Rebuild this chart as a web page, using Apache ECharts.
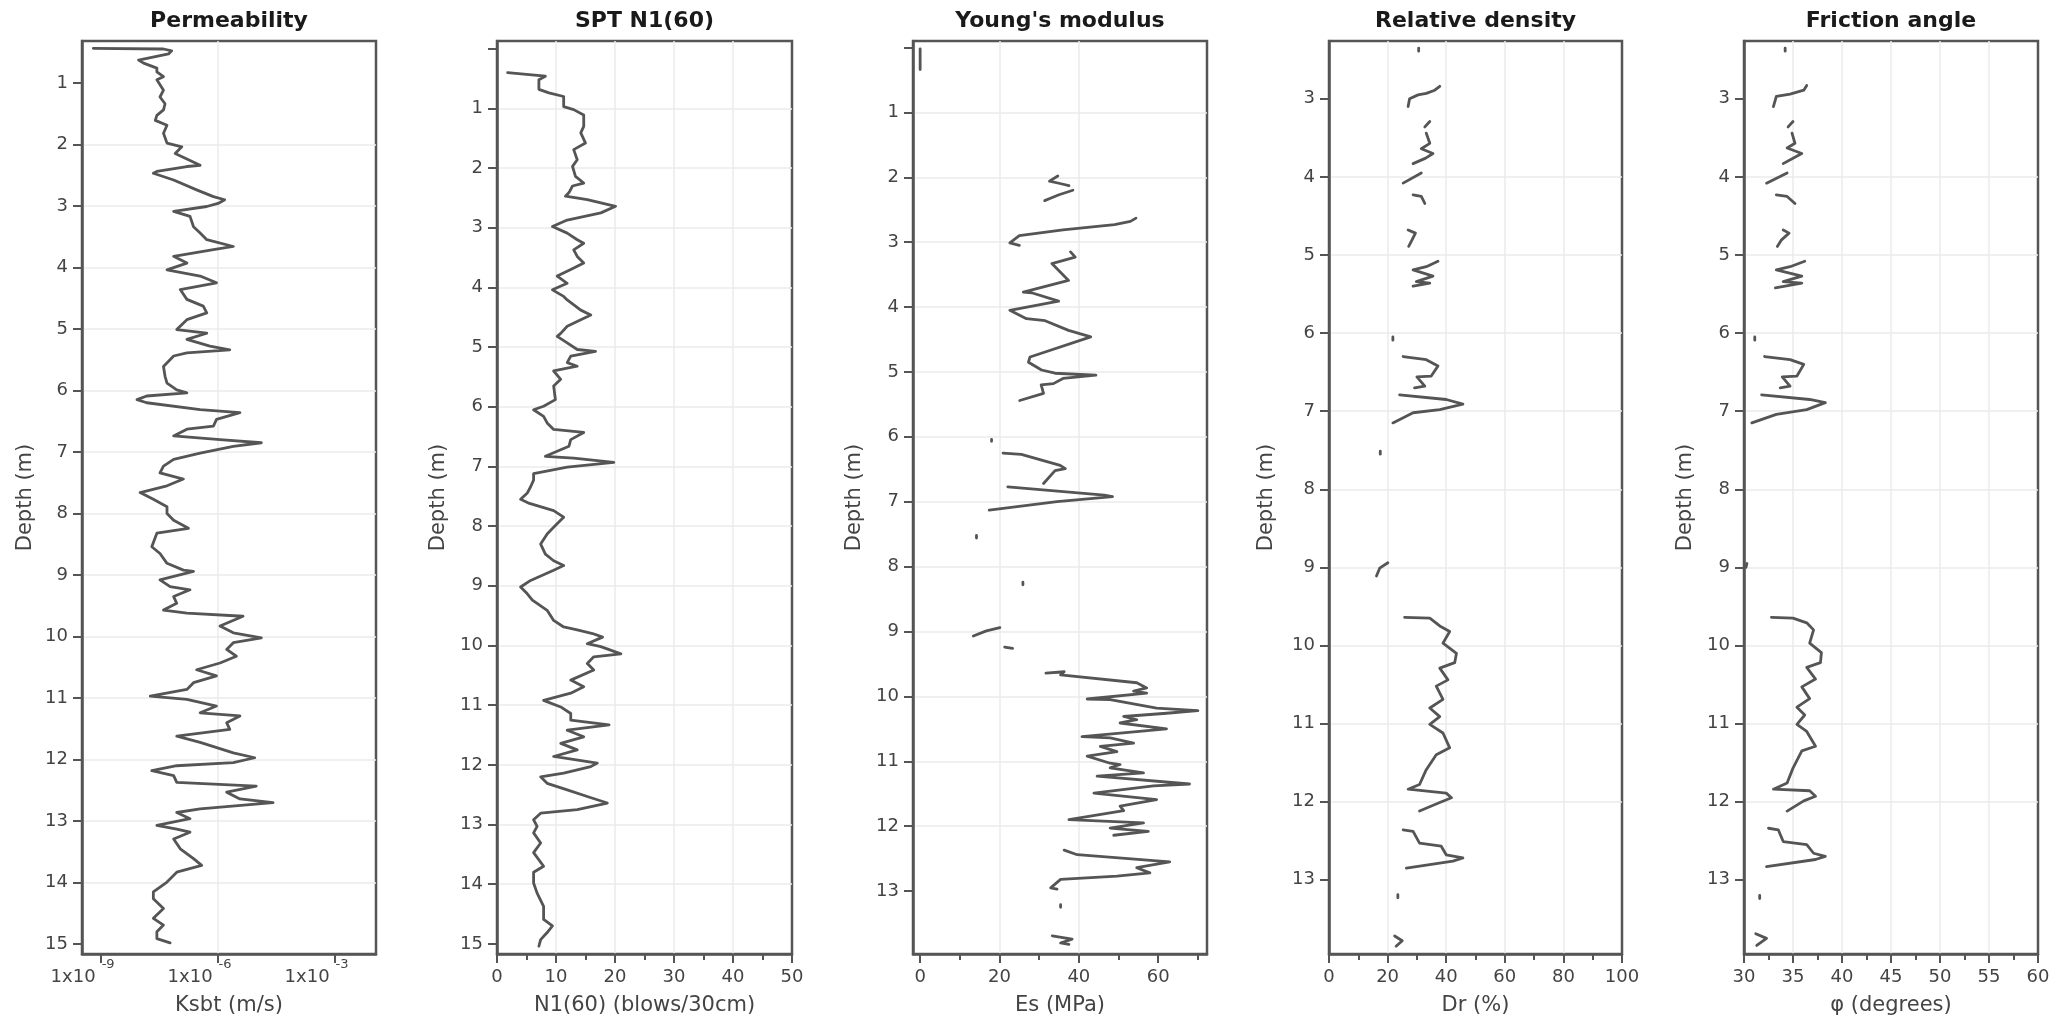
<!DOCTYPE html>
<html>
<head>
<meta charset="utf-8">
<script src="https://cdn.jsdelivr.net/npm/echarts@6/dist/echarts.min.js"></script>
<style>
html,body{margin:0;padding:0;background:#fff;}
#chart{width:2069px;height:1021px;}
</style>
</head>
<body>
<div id="chart"></div>
<script>
// ---------- DATA : [depth (m), value] ; null = gap ----------
const titles = ['Permeability', 'SPT N1(60)', "Young's modulus", 'Relative density', 'Friction angle'];
const xNames = ['Ksbt (m/s)', 'N1(60) (blows/30cm)', 'Es (MPa)', 'Dr (%)', 'φ (degrees)'];
const depthName = 'Depth (m)';

const permTicks = [-9, -6, -3];           // log10 of Ksbt
const esTicks = [0, 20, 40, 60];
const esMinorTicks = [10, 30, 50, 70];

// permeability : [depth, log10(Ksbt)]
const permeability = [
[0.44,-9.20],[0.45,-7.40],[0.48,-7.19],[0.53,-7.27],[0.63,-8.04],[0.68,-7.91],[0.76,-7.57],[0.82,-7.57],[0.90,-7.40],[0.95,-7.57],
[1.12,-7.40],[1.23,-7.49],[1.34,-7.36],[1.44,-7.40],[1.53,-7.57],[1.61,-7.61],[1.69,-7.31],[1.82,-7.40],[1.98,-7.31],[2.04,-6.93],
[2.15,-7.10],[2.25,-6.76],[2.34,-6.46],[2.36,-6.80],[2.44,-7.57],[2.47,-7.66],[2.58,-7.14],[2.74,-6.55],[2.85,-6.12],[2.90,-5.83],
[2.96,-6.00],[3.01,-6.29],[3.09,-7.14],[3.17,-6.72],[3.34,-6.63],[3.44,-6.46],[3.55,-6.29],[3.66,-5.61],[3.71,-6.12],[3.82,-7.14],
[3.93,-6.80],[4.04,-7.31],[4.14,-6.46],[4.25,-6.04],[4.36,-6.97],[4.52,-6.80],[4.63,-6.38],[4.74,-6.29],[4.85,-6.80],[5.01,-7.06],
[5.07,-6.29],[5.17,-6.80],[5.28,-6.21],[5.34,-5.70],[5.39,-6.80],[5.44,-7.14],[5.61,-7.40],[5.77,-7.36],[5.88,-7.31],[5.99,-7.06],
[6.04,-6.80],[6.09,-7.83],[6.15,-8.08],[6.20,-7.83],[6.31,-6.46],[6.36,-5.44],[6.47,-6.04],[6.58,-6.12],[6.63,-6.80],[6.74,-7.14],
[6.80,-5.95],[6.85,-4.89],[6.91,-5.61],[7.02,-6.46],[7.12,-7.14],[7.23,-7.40],[7.34,-7.49],[7.44,-6.89],[7.55,-7.31],[7.66,-8.00],
[7.77,-7.66],[7.89,-7.31],[8.00,-7.31],[8.11,-7.14],[8.24,-6.76],[8.32,-7.57],[8.54,-7.70],[8.65,-7.49],[8.81,-7.31],[8.92,-6.89],
[8.94,-6.63],[9.08,-7.49],[9.19,-7.23],[9.24,-6.72],[9.35,-7.14],[9.46,-7.06],[9.57,-7.40],[9.62,-6.80],[9.67,-5.36],[9.83,-5.95],
[9.94,-5.61],[10.02,-4.89],[10.10,-5.61],[10.21,-5.78],[10.32,-5.53],[10.43,-5.95],[10.54,-6.55],[10.64,-6.04],[10.75,-6.63],[10.86,-6.80],
[10.97,-7.74],[11.02,-6.80],[11.13,-6.04],[11.24,-6.46],[11.29,-5.44],[11.40,-5.78],[11.51,-5.70],[11.62,-7.06],[11.72,-6.46],[11.89,-5.61],
[11.97,-5.06],[12.05,-5.61],[12.10,-7.06],[12.18,-7.70],[12.26,-7.14],[12.37,-7.06],[12.43,-5.02],[12.53,-5.78],[12.64,-5.44],[12.70,-4.59],
[12.80,-6.46],[12.86,-7.06],[12.96,-6.72],[13.07,-7.57],[13.13,-7.06],[13.18,-6.72],[13.29,-7.14],[13.45,-6.97],[13.61,-6.63],[13.72,-6.42],
[13.83,-7.06],[13.99,-7.31],[14.15,-7.66],[14.26,-7.66],[14.42,-7.40],[14.58,-7.66],[14.69,-7.40],[14.80,-7.57],[14.91,-7.57],[14.98,-7.23]
];

// SPT N1(60) : [depth, N1(60)]
const spt = [
[0.40,1.8],[0.46,8.2],[0.52,7.1],[0.68,7.1],[0.74,8.8],[0.80,11.3],[0.97,11.3],[1.02,13.0],[1.11,14.7],[1.30,14.7],
[1.41,14.2],[1.58,15.0],[1.69,13.0],[1.86,13.6],[1.97,12.8],[2.14,13.3],[2.25,14.7],[2.30,12.8],[2.41,12.2],[2.47,11.6],
[2.53,15.3],[2.64,20.1],[2.75,17.6],[2.87,11.9],[2.98,9.4],[3.09,11.9],[3.20,13.6],[3.26,14.7],[3.37,13.0],[3.48,13.6],
[3.59,14.7],[3.70,12.5],[3.81,10.2],[3.93,11.9],[4.04,9.4],[4.15,11.3],[4.21,11.9],[4.38,14.2],[4.46,15.9],[4.54,14.2],
[4.65,11.9],[4.77,10.8],[4.82,10.2],[4.93,11.9],[5.04,13.6],[5.07,16.7],[5.15,12.5],[5.26,11.9],[5.32,13.6],[5.40,9.6],
[5.54,10.8],[5.65,9.6],[5.88,9.9],[5.99,7.9],[6.05,6.2],[6.16,7.9],[6.27,8.5],[6.38,9.6],[6.43,14.7],[6.55,12.5],
[6.66,12.2],[6.77,9.6],[6.83,8.2],[6.86,13.0],[6.93,19.8],[7.01,11.9],[7.12,6.2],[7.23,6.2],[7.34,5.7],[7.45,5.1],
[7.55,4.0],[7.62,5.5],[7.74,9.6],[7.85,11.3],[7.91,10.7],[8.02,9.6],[8.13,8.5],[8.30,7.4],[8.47,8.2],[8.58,9.6],
[8.66,11.3],[8.74,9.6],[8.91,5.7],[9.02,4.0],[9.13,5.1],[9.24,6.0],[9.41,8.5],[9.58,9.6],[9.69,11.3],[9.74,13.6],
[9.80,16.2],[9.86,17.9],[9.97,15.3],[10.02,17.6],[10.14,21.0],[10.19,16.4],[10.30,15.3],[10.41,16.4],[10.58,12.5],[10.69,14.7],
[10.80,12.5],[10.92,7.9],[11.03,10.8],[11.14,12.5],[11.25,12.5],[11.33,19.0],[11.42,11.9],[11.53,14.7],[11.64,10.8],[11.75,13.6],
[11.86,9.6],[11.97,17.0],[12.03,15.9],[12.14,11.3],[12.20,7.4],[12.31,8.5],[12.42,11.9],[12.53,15.3],[12.64,18.7],[12.75,13.6],
[12.81,7.4],[12.92,6.2],[13.03,6.8],[13.14,6.2],[13.31,7.4],[13.47,6.2],[13.70,7.9],[13.80,6.2],[13.98,6.2],[14.15,6.8],
[14.37,7.9],[14.59,7.9],[14.70,9.4],[14.81,8.5],[14.93,7.4],[15.04,7.1]
];

// Young's modulus : [depth, Es (MPa)]
const youngs = [
[0.02,0],[0.34,0],null,
[1.98,34.7],[2.06,32.6],[2.10,35.5],[2.13,37.5],null,
[2.20,38.5],[2.27,35.0],[2.32,33.0],[2.36,31.4],null,
[2.63,54.4],[2.68,53.0],[2.73,49.0],[2.81,36.0],[2.90,25.0],[3.01,22.6],[3.05,25.0],null,
[3.15,37.9],[3.23,39.1],[3.33,33.2],[3.59,37.4],[3.77,26.0],[3.78,28.1],[3.91,34.9],[4.05,22.6],[4.18,26.8],[4.21,31.5],
[4.36,37.4],[4.46,43.0],[4.77,27.7],[4.85,27.3],[4.97,30.6],[5.02,34.0],[5.05,44.3],[5.10,36.0],[5.18,33.6],[5.20,30.5],
[5.33,31.1],[5.44,25.1],null,
[6.04,18.0],[6.07,18.0],null,
[6.25,20.9],[6.27,25.5],[6.44,35.3],[6.49,36.6],[6.52,34.0],[6.72,31.1],null,
[6.77,22.1],[6.90,46.4],[6.92,48.5],[7.00,34.5],[7.13,17.4],null,
[7.52,14.2],[7.56,14.2],null,
[8.24,25.9],[8.28,25.9],null,
[8.94,20.1],[8.99,16.7],[9.07,13.4],null,
[9.24,21.3],[9.26,23.3],null,
[9.64,31.7],[9.62,36.3],[9.67,35.4],[9.79,54.6],[9.87,57.1],[9.92,53.8],[9.95,57.1],[10.04,42.1],[10.05,47.9],[10.18,59.6],
[10.22,70.0],[10.26,62.1],[10.31,51.3],[10.36,54.6],[10.41,50.4],[10.50,62.1],[10.62,40.8],[10.64,47.9],[10.72,53.8],[10.77,45.4],
[10.85,49.6],[10.92,42.1],[11.03,47.9],[11.05,50.4],[11.10,47.9],[11.18,56.3],[11.23,44.6],[11.35,67.9],[11.38,58.8],[11.49,43.8],
[11.59,59.6],[11.69,50.4],[11.76,51.3],[11.90,37.5],[11.95,56.3],[12.03,47.9],[12.08,57.5],[12.14,48.8],null,
[12.37,36.3],[12.44,39.6],[12.55,62.9],[12.64,54.6],[12.72,57.9],[12.77,49.6],[12.82,35.4],[12.95,32.9],[12.97,34.5],null,
[13.21,35.4],[13.25,35.4],null,
[13.69,33.3],[13.74,38.3],[13.80,35.4],[13.82,37.5]
];

// Relative density : [depth, Dr (%)]
const relDensity = [
[2.35,30.6],[2.39,30.6],null,
[2.84,37.8],[2.89,36.1],[2.93,33.2],[2.95,30.4],[3.00,27.5],[3.10,27.0],null,
[3.29,34.4],[3.36,32.7],null,
[3.44,33.2],[3.57,34.4],[3.64,31.5],[3.70,35.5],[3.76,33.0],[3.83,28.7],null,
[3.95,31.5],[4.08,25.3],null,
[4.23,28.7],[4.25,31.5],[4.34,32.7],null,
[4.68,27.0],[4.72,29.5],[4.81,28.3],[4.89,27.2],null,
[5.08,37.2],[5.15,33.2],[5.19,28.7],[5.27,35.5],[5.34,29.8],[5.36,34.4],[5.40,28.7],null,
[6.05,21.8],[6.09,21.8],null,
[6.30,25.3],[6.34,33.2],[6.42,37.2],[6.55,34.9],[6.56,30.0],[6.68,32.7],[6.70,29.2],null,
[6.79,24.1],[6.85,40.0],[6.91,45.7],[6.98,37.8],[7.02,28.7],[7.15,21.8],null,
[7.51,17.5],[7.55,17.5],null,
[8.94,20.1],[9.01,17.3],[9.11,16.2],null,
[9.64,25.8],[9.65,34.4],[9.75,37.8],[9.82,41.2],[9.97,38.9],[10.10,43.5],[10.22,42.9],[10.29,37.8],[10.44,40.6],[10.52,36.6],
[10.69,38.9],[10.80,34.4],[10.91,37.8],[11.01,34.4],[11.12,38.9],[11.31,41.2],[11.40,36.6],[11.59,33.2],[11.78,30.9],[11.84,27.0],
[11.89,40.0],[11.95,41.8],[12.01,37.8],[12.12,30.9],null,
[12.36,25.3],[12.38,28.7],[12.53,30.9],[12.57,38.3],[12.68,40.0],[12.72,45.7],[12.76,42.3],[12.85,26.4],null,
[13.19,23.5],[13.23,23.5],null,
[13.72,22.4],[13.78,25.0],[13.85,22.9]
];

// Friction angle : [depth, phi (degrees)]
const friction = [
[2.35,34.2],[2.39,34.2],null,
[2.83,36.4],[2.89,36.1],[2.94,34.7],[2.97,33.3],[3.10,33.0],null,
[3.29,35.0],[3.36,34.5],null,
[3.44,34.9],[3.57,35.2],[3.63,34.4],[3.70,35.9],[3.76,35.0],[3.83,34.0],null,
[3.95,34.4],[4.08,32.3],null,
[4.23,33.3],[4.25,34.4],[4.34,35.2],null,
[4.68,34.0],[4.72,34.6],[4.81,33.8],[4.89,33.4],null,
[5.08,36.2],[5.15,34.7],[5.19,33.3],[5.27,35.9],[5.34,34.0],[5.36,35.9],[5.42,33.2],null,
[6.05,31.1],[6.09,31.1],null,
[6.30,32.1],[6.34,34.7],[6.40,36.1],[6.55,35.4],[6.56,33.9],[6.68,34.7],[6.70,33.7],null,
[6.79,31.8],[6.85,36.7],[6.89,38.3],[6.98,36.4],[7.04,33.3],[7.15,30.8],null,
[8.95,30.3],[9.00,30.2],null,
[9.64,32.8],[9.65,35.0],[9.71,36.4],[9.80,37.1],[9.97,36.7],[10.09,37.9],[10.22,37.8],[10.28,36.4],[10.43,37.3],[10.53,35.9],
[10.68,36.7],[10.79,35.4],[10.89,36.2],[11.01,35.4],[11.10,36.4],[11.29,37.3],[11.35,35.9],[11.57,35.0],[11.76,34.4],[11.84,33.0],
[11.86,36.7],[11.93,37.3],[11.99,36.1],[12.12,34.4],null,
[12.34,32.5],[12.36,33.5],[12.51,34.0],[12.55,36.4],[12.66,37.1],[12.70,38.3],[12.74,37.3],[12.83,32.3],null,
[13.20,31.6],[13.24,31.6],null,
[13.69,31.2],[13.75,32.3],[13.84,31.3]
];

// ---------- LAYOUT ----------
const FONT = 'DejaVu Sans';
const LINE = '#555555';
const TXT = '#444444';
const GRIDC = '#ebebeb';
const grids = [
  {left: 82,   top: 41, width: 294, height: 913},
  {left: 497,  top: 41, width: 295, height: 913},
  {left: 913,  top: 41, width: 294, height: 913},
  {left: 1329, top: 41, width: 293, height: 913},
  {left: 1744, top: 41, width: 294, height: 913}
];
const range = (a, b) => { const r = []; for (let i = a; i <= b; i++) r.push(i); return r; };
const yCfg = [
  {min: 0.32, max: 15.16, ticks: range(1, 15), labels: range(1, 15), gap: 46},
  {min: -0.13, max: 15.17, ticks: range(0, 15), labels: range(1, 15), gap: 48},
  {min: -0.10, max: 13.97, ticks: range(0, 13), labels: range(1, 13), gap: 48},
  {min: 2.26, max: 13.95, ticks: range(3, 13), labels: range(3, 13), gap: 52},
  {min: 2.26, max: 13.95, ticks: range(3, 13), labels: range(3, 13), gap: 48}
];

const toSeries = pairs => pairs.map(p => p ? [p[1], p[0]] : ['-', '-']);

const axisLineStyle = {show: true, onZero: false, lineStyle: {color: LINE, width: 2.5}};
const labelStyle = {fontFamily: FONT, fontSize: 18, color: TXT};
const nameStyle = {fontFamily: FONT, fontSize: 21, color: TXT};
const splitStyle = {show: true, showMinLine: false, showMaxLine: false, lineStyle: {color: GRIDC, width: 1.5}};

const yAxes = yCfg.map((c, i) => ({
  type: 'value', gridIndex: i, inverse: true, min: c.min, max: c.max, position: 'left',
  name: depthName, nameLocation: 'middle', nameGap: c.gap, nameTextStyle: nameStyle,
  axisLine: axisLineStyle,
  axisTick: {show: true, customValues: c.ticks, length: 9, lineStyle: {color: LINE, width: 2}},
  axisLabel: Object.assign({customValues: c.labels, margin: 14}, labelStyle),
  splitLine: splitStyle
}));

function xBase(i, extra) {
  return Object.assign({
    type: 'value', gridIndex: i, position: 'bottom',
    name: xNames[i], nameLocation: 'middle', nameGap: 41, nameTextStyle: nameStyle,
    axisLine: axisLineStyle,
    axisTick: {show: true, length: 9, lineStyle: {color: LINE, width: 2}},
    minorTick: {show: false},
    axisLabel: Object.assign({margin: 14}, labelStyle),
    splitLine: splitStyle
  }, extra);
}

const minorTick = {show: true, splitNumber: 2, length: 6, lineStyle: {color: LINE, width: 2}};

const xAxes = [
  xBase(0, {
    min: -9.49, max: -1.95,
    axisTick: {show: true, customValues: permTicks, length: 9, lineStyle: {color: LINE, width: 2}},
    axisLabel: {
      customValues: permTicks, margin: 4, color: TXT, fontFamily: FONT,
      formatter: v => '{b|1x10}{s|' + v + '}{p| }',
      rich: {
        b: {fontFamily: FONT, fontSize: 18, color: TXT, lineHeight: 20, verticalAlign: 'bottom'},
        s: {fontFamily: FONT, fontSize: 13, color: TXT, lineHeight: 14, verticalAlign: 'top', padding: [0, 0, 0, 6]},
        p: {fontFamily: FONT, fontSize: 11, width: 37, lineHeight: 28}
      }
    }
  }),
  xBase(1, {min: 0, max: 50, interval: 10, minorTick: minorTick}),
  xBase(2, {min: -1.8, max: 72.3,
    axisTick: {show: true, customValues: esTicks, length: 9, lineStyle: {color: LINE, width: 2}},
    axisLabel: Object.assign({customValues: esTicks, margin: 14}, labelStyle)}),
  xBase(3, {min: 0, max: 100, interval: 20, minorTick: minorTick}),
  xBase(4, {min: 30, max: 60, interval: 5, minorTick: minorTick}),
  // minor ticks of Young's modulus axis
  {type: 'value', gridIndex: 2, position: 'bottom', min: -1.8, max: 72.3,
   axisLine: {show: false, onZero: false},
   axisTick: {show: true, customValues: esMinorTicks, length: 6, lineStyle: {color: LINE, width: 2}},
   axisLabel: {show: false}, splitLine: {show: false}}
];

const datasets = [permeability, spt, youngs, relDensity, friction];
const series = datasets.map((d, i) => ({
  type: 'line', xAxisIndex: i, yAxisIndex: i,
  data: toSeries(d), showSymbol: false, symbol: 'none',
  connectNulls: false, clip: true, smooth: false,
  lineStyle: {color: LINE, width: 2.8, join: 'round', cap: 'round'},
  itemStyle: {color: LINE},
  z: 3
}));

const title = titles.map((t, i) => ({
  text: t, left: grids[i].left + grids[i].width / 2, top: 10, textAlign: 'center', padding: 0,
  textStyle: {fontFamily: FONT, fontSize: 22, fontWeight: 'bold', color: '#1a1a1a'}
}));

const chart = echarts.init(document.getElementById('chart'), null, {renderer: 'canvas'});
chart.setOption({
  backgroundColor: '#ffffff',
  animation: false,
  title: title,
  grid: grids.map(g => Object.assign({show: true, borderColor: LINE, borderWidth: 2.5, backgroundColor: 'transparent', containLabel: false}, g)),
  xAxis: xAxes,
  yAxis: yAxes,
  series: series
});
</script>
</body>
</html>
